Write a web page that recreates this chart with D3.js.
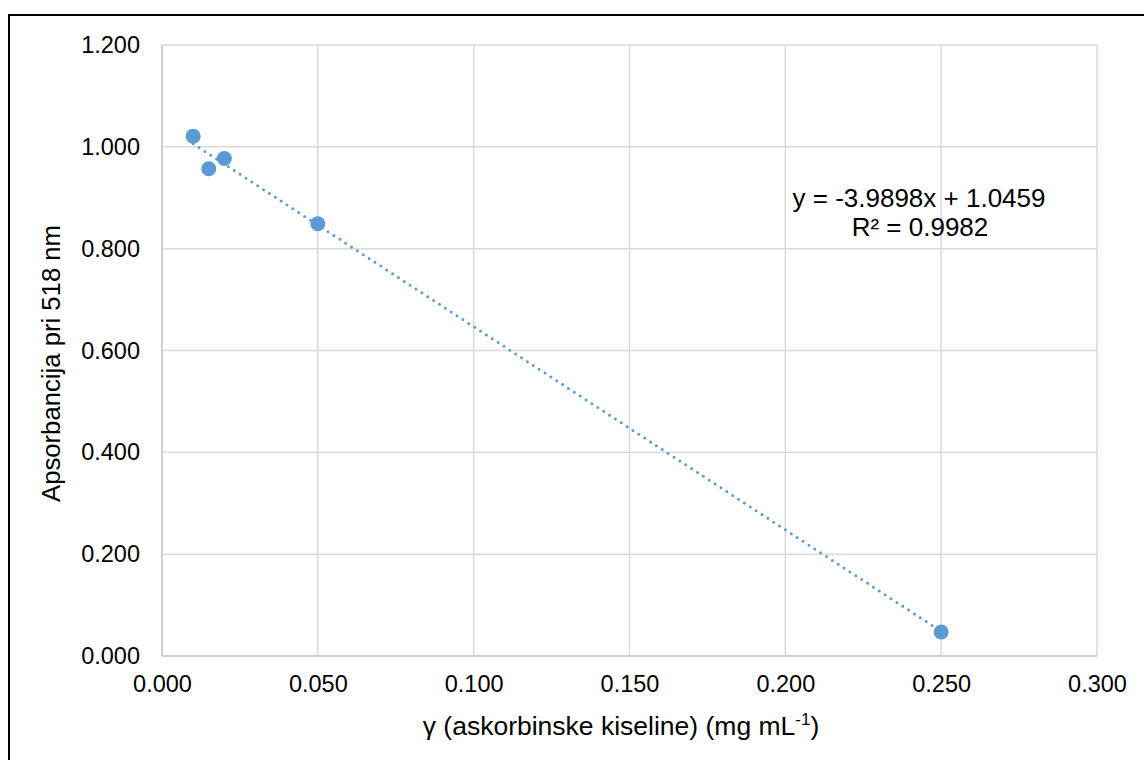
<!DOCTYPE html>
<html><head><meta charset="utf-8">
<script src="https://cdn.jsdelivr.net/npm/d3@7"></script>
<style>html,body{margin:0;padding:0;background:#fff;} svg{display:block;font-family:"Liberation Sans",Arial,sans-serif;}</style>
</head><body>
<svg id="c" width="1144" height="760"></svg>
<script>
const xValues = [0.010, 0.015, 0.020, 0.050, 0.250];
const yValues = [1.021, 0.957, 0.977, 0.849, 0.047];
const xTicks = [0, 0.05, 0.10, 0.15, 0.20, 0.25, 0.30];
const yTicks = [0, 0.2, 0.4, 0.6, 0.8, 1.0, 1.2];
const slope = -3.9898, intercept = 1.0459;
const eqLines = ["y = -3.9898x + 1.0459", "R² = 0.9982"];

const svg = d3.select("#c");
const x = d3.scaleLinear().domain([0, 0.3]).range([162, 1097]);
const y = d3.scaleLinear().domain([0, 1.2]).range([656, 45]);

svg.append("rect").attr("x",9).attr("y",15).attr("width",1150).attr("height",760)
  .attr("fill","#fff").attr("stroke","#000").attr("stroke-width",2);

const grid = svg.append("g");
grid.selectAll("line.v").data(xTicks).join("line")
  .attr("x1",d=>x(d)).attr("x2",d=>x(d)).attr("y1",y(1.2)).attr("y2",y(0))
  .attr("stroke","#d9d9d9").attr("stroke-width",1.5);
grid.selectAll("line.h").data(yTicks).join("line")
  .attr("y1",d=>y(d)).attr("y2",d=>y(d)).attr("x1",x(0)).attr("x2",x(0.3))
  .attr("stroke","#d9d9d9").attr("stroke-width",1.5);
svg.append("line").attr("x1",x(0)).attr("x2",x(0)).attr("y1",y(1.2)).attr("y2",y(0)).attr("stroke","#c8c8c8").attr("stroke-width",1.5);
svg.append("line").attr("x1",x(0)).attr("x2",x(0.3)).attr("y1",y(0)).attr("y2",y(0)).attr("stroke","#c8c8c8").attr("stroke-width",1.5);

const fmt = d3.format(".3f");
const xAxis = d3.axisBottom(x).tickValues(xTicks).tickFormat(fmt).tickSize(0).tickPadding(19);
const gx = svg.append("g").attr("transform",`translate(0,${y(0)})`).call(xAxis);
gx.select(".domain").remove();
gx.selectAll("text").attr("font-size",23.5).attr("fill","#000").attr("font-family","Liberation Sans, Arial, sans-serif");

const yAxis = d3.axisLeft(y).tickValues(yTicks).tickFormat(fmt).tickSize(0).tickPadding(22);
const gy = svg.append("g").attr("transform",`translate(${x(0)},0)`).call(yAxis);
gy.select(".domain").remove();
gy.selectAll("text").attr("font-size",23.5).attr("fill","#000").attr("font-family","Liberation Sans, Arial, sans-serif");

// trendline
const xmin = d3.min(xValues), xmax = d3.max(xValues);
svg.append("line")
  .attr("x1",x(xmin)).attr("y1",y(slope*xmin+intercept))
  .attr("x2",x(xmax)).attr("y2",y(slope*xmax+intercept))
  .attr("stroke","#5b9bd5").attr("stroke-width",3).attr("stroke-linecap","round")
  .attr("stroke-dasharray","0 7");

svg.selectAll("circle.pt").data(xValues.map((v,i)=>[v,yValues[i]])).join("circle")
  .attr("cx",d=>x(d[0])).attr("cy",d=>y(d[1])).attr("r",7.5).attr("fill","#5b9bd5");

// equation
svg.append("text").attr("x",919).attr("y",207).attr("text-anchor","middle").attr("font-size",26).attr("fill","#000").text(eqLines[0]);
svg.append("text").attr("x",920).attr("y",236).attr("text-anchor","middle").attr("font-size",26).attr("fill","#000").text(eqLines[1]);

// axis titles
const xt = svg.append("text").attr("x",621).attr("y",735).attr("text-anchor","middle").attr("font-size",26.5).attr("fill","#000");
xt.append("tspan").text("γ (askorbinske kiseline) (mg mL");
xt.append("tspan").attr("font-size",17).attr("dy",-10).text("-1");
xt.append("tspan").attr("dy",10).text(")");

svg.append("text").attr("transform","translate(60,363.5) rotate(-90)").attr("text-anchor","middle")
  .attr("font-size",25.7).attr("fill","#000").text("Apsorbancija pri 518 nm");
</script>
</body></html>
